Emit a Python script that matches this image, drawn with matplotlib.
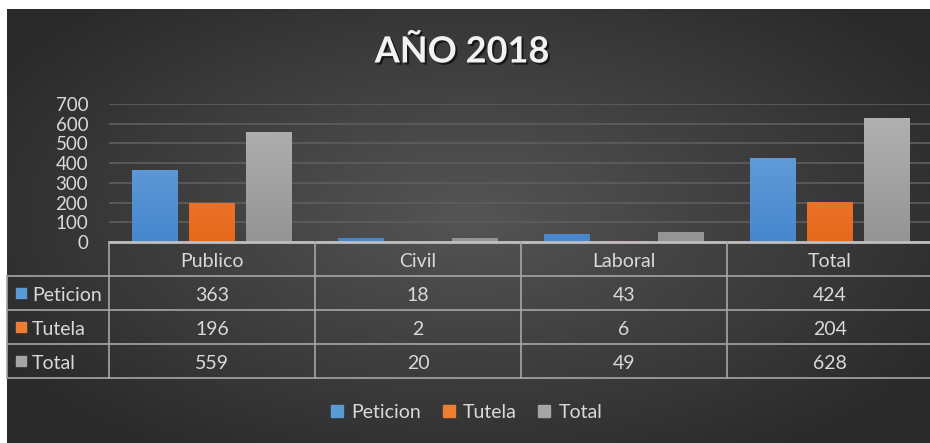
import numpy as np
import matplotlib
matplotlib.use("Agg")
import matplotlib.pyplot as plt
from matplotlib.lines import Line2D
from matplotlib.colors import LinearSegmentedColormap
import matplotlib.patheffects as pe

plt.rcParams['font.family'] = ['Lato', 'DejaVu Sans']

# ---- data ----
title = "AÑO 2018"
categories = ["Publico", "Civil", "Laboral", "Total"]
series_names = ["Peticion", "Tutela", "Total"]
peticion = [363, 18, 43, 424]
tutela = [196, 2, 6, 204]
total = [559, 20, 49, 628]
series_values = [peticion, tutela, total]
yticks = [0, 100, 200, 300, 400, 500, 600, 700]

# ---- styles ----
top_cols = ["#70a8e0", "#f48d50", "#b4b4b4"]
bot_cols = ["#4787cd", "#e6681a", "#949494"]
legend_cols = ["#5b9bd5", "#ed7d31", "#a5a5a5"]
txt_col = "#d9d9d9"
line_col = "#a6a6a6"
fs = 14

W, H = 930, 443
fig = plt.figure(figsize=(W / 100, H / 100), dpi=100)
fig.patch.set_facecolor("white")

def fx(x):
    return x / W

def fy(y):
    return 1 - y / H

# background radial gradient
bg = fig.add_axes([fx(7), 0, fx(930) - fx(7), fy(9)])
bg.set_axis_off()
gx = np.linspace(-1, 1, 400)
gy = np.linspace(-1, 1, 200)
XX, YY = np.meshgrid(gx, gy)
R = np.sqrt((XX / 1.0) ** 2 + ((YY + 0.05) / 1.1) ** 2)
R = np.clip(R / 1.2, 0, 1)
c_in = np.array([0x55, 0x55, 0x55]) / 255
c_out = np.array([0x2a, 0x2a, 0x2a]) / 255
img = c_in[None, None, :] * (1 - R[..., None]) + c_out[None, None, :] * R[..., None]
bg.imshow(img, aspect="auto", extent=[0, 1, 0, 1], origin="upper")
bg.set_xlim(0, 1)
bg.set_ylim(0, 1)

# title
fig.text(fx(462), fy(52), title, ha="center", va="center", fontsize=26,
         fontweight="bold", color="#f2f2f2",
         path_effects=[pe.SimplePatchShadow(offset=(1.5, -1.5), shadow_rgbFace="black", alpha=0.6), pe.Normal()])

# main axes
ax = fig.add_axes([fx(109), fy(242), fx(933) - fx(109), fy(104) - fy(242)])
ax.patch.set_alpha(0)
for s in ax.spines.values():
    s.set_visible(False)
ax.set_xlim(-0.5, len(categories) - 0.5)
ax.set_ylim(0, 700)
ax.set_yticks(yticks)
ax.set_yticklabels([str(v) for v in yticks], fontsize=13.5, color=txt_col)
ax.tick_params(axis="y", length=0, pad=15)
ax.set_xticks([])
ax.yaxis.grid(True, color="#5c5c5c", lw=1.3)
ax.set_axisbelow(True)

bw = 0.223
step = 0.277
x = np.arange(len(categories))
for k, vals in enumerate(series_values):
    pos = x + (k - 1) * step
    bars = ax.bar(pos, vals, width=bw, color=legend_cols[k], zorder=2)
    cmap = LinearSegmentedColormap.from_list("g%d" % k, [bot_cols[k], top_cols[k]])
    grad = np.linspace(0, 1, 100).reshape(-1, 1)
    for b in bars:
        bx, by = b.get_x(), b.get_y()
        bwid, bh = b.get_width(), b.get_height()
        if bh <= 0:
            continue
        im = ax.imshow(grad, cmap=cmap, aspect="auto", origin="lower",
                       extent=[bx, bx + bwid, by, by + 700], zorder=3)
        im.set_clip_path(b)
ax.set_xlim(-0.5, len(categories) - 0.5)
ax.set_ylim(0, 700)

# table axes
left_w = (109 - 7) / 206
tab = fig.add_axes([fx(7), fy(378), fx(933) - fx(7), fy(242) - fy(378)])
tab.set_axis_off()
tab.patch.set_alpha(0)
x0 = -0.5 - left_w
x1 = len(categories) - 0.5
tab.set_xlim(x0, x1)
tab.set_ylim(4, 0)

# lines
tab.plot([-0.5, x1], [0, 0], color="#bfbfbf", lw=2, clip_on=False)
for r in range(1, 5):
    tab.plot([x0, x1], [r, r], color=line_col, lw=1.2, clip_on=False)
for c in range(len(categories)):
    tab.plot([c - 0.5, c - 0.5], [0, 4], color=line_col, lw=1.2, clip_on=False)
tab.plot([x0 + 0.002, x0 + 0.002], [1, 4], color=line_col, lw=1.2, clip_on=False)

dy = 0.06
for i, cat in enumerate(categories):
    tab.text(i, 0.5 + dy, cat, ha="center", va="center", fontsize=fs, color=txt_col)

lab_x = -0.5 - (109 - 32) / 206
sq_x = -0.5 - (109 - 20.5) / 206
for k, (name, vals) in enumerate(zip(series_names, series_values)):
    yc = k + 1.5
    tab.scatter([sq_x], [yc], marker="s", s=62, color=legend_cols[k], clip_on=False, zorder=4)
    tab.text(lab_x, yc + dy, name, ha="left", va="center", fontsize=fs, color=txt_col)
    for i, v in enumerate(vals):
        tab.text(i, yc + dy, str(v), ha="center", va="center", fontsize=fs, color=txt_col)

# legend
handles = [Line2D([], [], marker="s", ls="", color=legend_cols[k], markersize=8)
           for k in range(len(series_names))]
fig.legend(handles, series_names, loc="center", bbox_to_anchor=(fx(466), fy(412)),
           ncol=3, frameon=False, fontsize=fs, labelcolor=txt_col,
           handletextpad=0.35, columnspacing=1.0, handlelength=0.8)

fig.savefig("out.png", dpi=100, facecolor=fig.get_facecolor())
